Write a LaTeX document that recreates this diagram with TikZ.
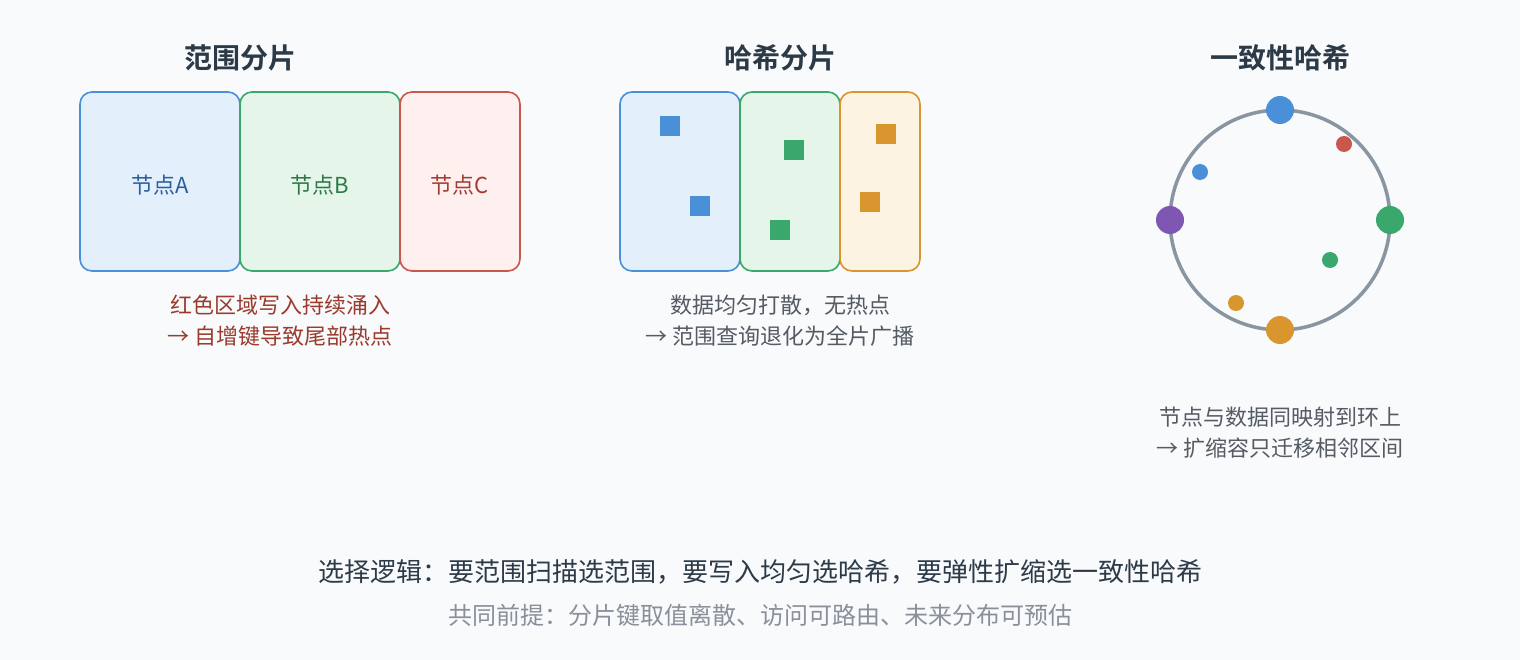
\documentclass[tikz,border=0pt]{standalone}
\usepackage{fontspec}
\setmainfont{Noto Sans CJK SC}
\newfontfamily\cjkb{Noto Sans CJK SC Bold}
\begin{document}
\begin{tikzpicture}[x=1pt,y=-1pt,
  title/.style={font=\cjkb\fontsize{28}{31}\selectfont, text=titc, inner sep=0pt},
  lbl/.style={font=\fontsize{22}{25}\selectfont, inner sep=0pt},
  captxt/.style={font=\fontsize{22}{25}\selectfont, inner sep=0pt},
  shard/.style={rounded corners=12pt, line width=1.6pt},
  sq/.style={inner sep=0pt, minimum size=20pt},
  bigdot/.style={circle, inner sep=0pt, minimum size=28pt},
  smalldot/.style={circle, inner sep=0pt, minimum size=16pt}]
\definecolor{bg}{HTML}{F8FAFC}
\definecolor{titc}{HTML}{2C3A47}
\definecolor{bluS}{HTML}{4A90D9}\definecolor{bluF}{HTML}{E3EFFB}
\definecolor{grnS}{HTML}{3AA76D}\definecolor{grnF}{HTML}{E5F5EA}
\definecolor{redS}{HTML}{C9574B}\definecolor{redF}{HTML}{FDF0EF}
\definecolor{orgS}{HTML}{D9962E}\definecolor{orgF}{HTML}{FDF3E3}
\definecolor{purS}{HTML}{7E57B2}
\definecolor{ringc}{HTML}{8A95A2}
\definecolor{bluT}{HTML}{2A5F9E}\definecolor{grnT}{HTML}{2B7A48}\definecolor{redT}{HTML}{A33D32}
\definecolor{capR}{HTML}{9A3B2C}\definecolor{capG}{HTML}{555B63}
\definecolor{mainT}{HTML}{2D3A48}\definecolor{subT}{HTML}{8A9099}
\useasboundingbox[fill=bg] (0,0) rectangle (1520,660);
% ---- range sharding
\node[title] (t1) at (240,58) {范围分片};
\draw[shard, draw=bluS, fill=bluF] (80,92) rectangle (240,271);
\draw[shard, draw=grnS, fill=grnF] (240,92) rectangle (400,271);
\draw[shard, draw=redS, fill=redF] (400,92) rectangle (520,271);
\node[lbl, text=bluT] (na) at (160,185) {节点A};
\node[lbl, text=grnT] (nb) at (320,185) {节点B};
\node[lbl, text=redT] (nc) at (460,185) {节点C};
\node[captxt, text=capR] (c1a) at (280,305) {红色区域写入持续涌入};
\node[captxt, text=capR] (c1b) at (280,336) {→ 自增键导致尾部热点};
% ---- hash sharding
\node[title] (t2) at (780,58) {哈希分片};
\draw[shard, draw=bluS, fill=bluF] (620,92) rectangle (740,271);
\draw[shard, draw=grnS, fill=grnF] (740,92) rectangle (840,271);
\draw[shard, draw=orgS, fill=orgF] (840,92) rectangle (920,271);
\node[sq, fill=bluS] (s1) at (670,126) {};
\node[sq, fill=bluS] (s2) at (700,206) {};
\node[sq, fill=grnS] (s3) at (794,150) {};
\node[sq, fill=grnS] (s4) at (780,230) {};
\node[sq, fill=orgS] (s5) at (886,134) {};
\node[sq, fill=orgS] (s6) at (870,202) {};
\node[captxt, text=capG] (c2a) at (780,305) {数据均匀打散，无热点};
\node[captxt, text=capG] (c2b) at (780,336) {→ 范围查询退化为全片广播};
% ---- consistent hashing
\node[title] (t3) at (1280,58) {一致性哈希};
\draw[ringc, line width=3.5pt] (1280,220) circle[radius=110];
\node[bigdot, fill=bluS] (d1) at (1280,110) {};
\node[bigdot, fill=grnS] (d2) at (1390,220) {};
\node[bigdot, fill=orgS] (d3) at (1280,330) {};
\node[bigdot, fill=purS] (d4) at (1170,220) {};
\node[smalldot, fill=redS] (e1) at (1344,144) {};
\node[smalldot, fill=bluS] (e2) at (1200,172) {};
\node[smalldot, fill=grnS] (e3) at (1330,260) {};
\node[smalldot, fill=orgS] (e4) at (1236,303) {};
\node[captxt, text=capG] (c3a) at (1280,417) {节点与数据同映射到环上};
\node[captxt, text=capG] (c3b) at (1280,448) {→ 扩缩容只迁移相邻区间};
% ---- bottom
\node[font=\fontsize{26}{29}\selectfont, text=mainT, inner sep=0pt] (m1) at (760,572) {选择逻辑：要范围扫描选范围，要写入均匀选哈希，要弹性扩缩选一致性哈希};
\node[font=\fontsize{24}{27}\selectfont, text=subT, inner sep=0pt] (m2) at (760,615) {共同前提：分片键取值离散、访问可路由、未来分布可预估};
\end{tikzpicture}
\end{document}
